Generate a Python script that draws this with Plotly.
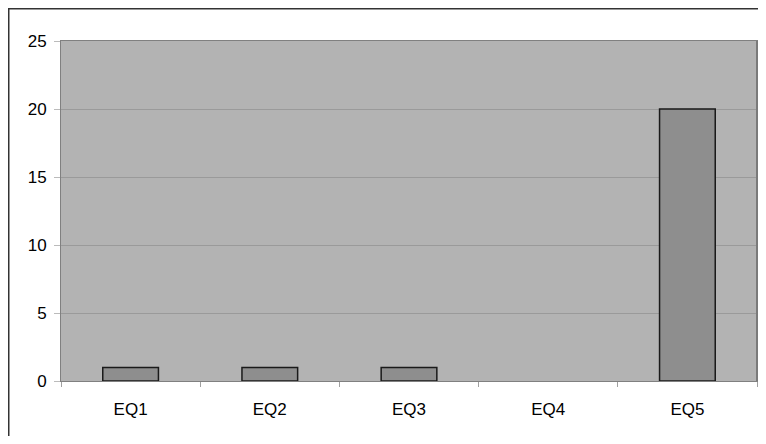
import plotly.graph_objects as go

categories = ["EQ1", "EQ2", "EQ3", "EQ4", "EQ5"]
values = [1, 1, 1, 0, 20]
y_ticks = [0, 5, 10, 15, 20, 25]

# page body has an 8px margin, so the figure starts at (8, 8)
W, H = 750, 428
L, R, T, B = 53, 1, 33, 55
pw, ph = W - L - R, H - T - B

fig = go.Figure(go.Bar(
    x=categories, y=values,
    marker=dict(
        color="#8e8e8e",
        line=dict(color="#1a1a1a", width=[1.5 if v else 0 for v in values]),
    ),
    width=0.4,
))

font = dict(family="Liberation Sans, Arial, sans-serif", size=17, color="#000000")

fig.update_layout(
    width=W, height=H,
    margin=dict(l=L, r=R, t=T, b=B),
    paper_bgcolor="white",
    plot_bgcolor="#b3b3b3",
    showlegend=False,
    font=font,
    xaxis=dict(
        showgrid=False, showline=True, linecolor="#808080", linewidth=1, mirror=True,
        ticks="outside", tickson="boundaries", ticklen=5, tickcolor="#a0a0a0",
        ticklabelstandoff=13, tickfont=font,
    ),
    yaxis=dict(
        range=[0, 25], tickvals=y_ticks, showgrid=True, gridcolor="#9a9a9a", gridwidth=1,
        showline=True, linecolor="#808080", linewidth=1, mirror=True,
        ticks="outside", ticklen=6, tickcolor="#bbbbbb", ticklabelstandoff=4,
        tickfont=font, zeroline=False,
    ),
    shapes=[
        dict(
            type="rect", xref="paper", yref="paper",
            x0=(0.75 - L) / pw, x1=(W + 20 - L) / pw,
            y0=-(H + 20 - T - ph) / ph, y1=1 + (T - 0.75) / ph,
            line=dict(color="#333333", width=1.5), fillcolor="rgba(0,0,0,0)", layer="below",
        ),
        dict(
            type="line", xref="paper", yref="paper", x0=1, x1=1, y0=0, y1=1,
            line=dict(color="#7a7a7a", width=2),
        ),
    ],
)

fig.write_html("out.html")
